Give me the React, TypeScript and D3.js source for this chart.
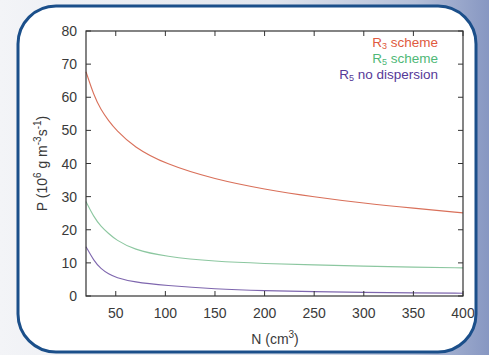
import React from "react";
import * as d3 from "d3";

const nValues = [20, 28, 35, 43, 50, 68, 100, 150, 200, 250, 300, 350, 400];
const r3Scheme = [67.7, 60.5, 56.2, 52.8, 50.2, 45.0, 39.8, 35.2, 32.2, 29.9, 28.0, 26.5, 25.1];
const r5Scheme = [28.5, 23.8, 21.0, 18.8, 17.0, 14.0, 11.9, 10.4, 9.8, 9.4, 9.0, 8.7, 8.5];
const r5NoDispersion = [14.9, 10.6, 8.2, 6.6, 5.6, 4.2, 3.2, 2.1, 1.6, 1.3, 1.1, 0.95, 0.85];
const xTicks = [50, 100, 150, 200, 250, 300, 350, 400];
const yTicks = [0, 10, 20, 30, 40, 50, 60, 70, 80];

const W = 489;
const H = 355;
const plot = { left: 86, right: 463, top: 31, bottom: 296 };
const FONT = "'Liberation Sans', Arial, Helvetica, sans-serif";
const TXT = "#3a3a3a";

export default function App() {
  const x = d3.scaleLinear().domain([20, 400]).range([plot.left, plot.right]);
  const y = d3.scaleLinear().domain([0, 80]).range([plot.bottom, plot.top]);
  const line = d3
    .line<number>()
    .x((_, i) => x(nValues[i]))
    .y((d) => y(d))
    .curve(d3.curveBasis);

  const series = [
    { vals: r3Scheme, color: "#d9705a" },
    { vals: r5Scheme, color: "#8cc7a0" },
    { vals: r5NoDispersion, color: "#7e66ae" },
  ];
  const tl = 5;

  return (
    <svg
      width={W}
      height={H}
      style={{ position: "fixed", top: 0, left: 0, display: "block" }}
    >
      <defs>
        <linearGradient id="bg" x1="0" y1="0" x2="1" y2="0">
          <stop offset="0" stopColor="#f3f4f7" />
          <stop offset="0.55" stopColor="#e2e6ee" />
          <stop offset="0.85" stopColor="#b4bfd8" />
          <stop offset="1" stopColor="#8797c2" />
        </linearGradient>
      </defs>
      <rect x={0} y={0} width={W} height={H} fill="url(#bg)" />
      <rect
        x={18}
        y={6}
        width={458}
        height={346}
        rx={38}
        ry={38}
        fill="#ffffff"
        stroke="#1b4f8a"
        strokeWidth={3}
      />
      {/* curves */}
      {series.map((s, i) => (
        <path key={i} d={line(s.vals) || ""} fill="none" stroke={s.color} strokeWidth={1.1} />
      ))}
      {/* frame */}
      <rect
        x={plot.left}
        y={plot.top}
        width={plot.right - plot.left}
        height={plot.bottom - plot.top}
        fill="none"
        stroke="#333"
        strokeWidth={1.2}
      />
      {/* x ticks */}
      {xTicks.map((t) => (
        <g key={"x" + t}>
          <line x1={x(t)} x2={x(t)} y1={plot.bottom} y2={plot.bottom - tl} stroke="#333" />
          <line x1={x(t)} x2={x(t)} y1={plot.top} y2={plot.top + tl} stroke="#333" />
          <text
            x={x(t)}
            y={318}
            textAnchor="middle"
            fontFamily={FONT}
            fontSize={14}
            fill={TXT}
          >
            {t}
          </text>
        </g>
      ))}
      {yTicks.map((t) => (
        <g key={"y" + t}>
          <line x1={plot.left} x2={plot.left + tl} y1={y(t)} y2={y(t)} stroke="#333" />
          <line x1={plot.right} x2={plot.right - tl} y1={y(t)} y2={y(t)} stroke="#333" />
          <text
            x={77}
            y={y(t) + 5}
            textAnchor="end"
            fontFamily={FONT}
            fontSize={14}
            fill={TXT}
          >
            {t}
          </text>
        </g>
      ))}
      {/* axis titles */}
      <text x={275} y={344} textAnchor="middle" fontFamily={FONT} fontSize={14} fill={TXT}>
        N (cm
        <tspan dy={-6} fontSize={10}>3</tspan>
        <tspan dy={6}>)</tspan>
      </text>
      <text
        transform={`translate(47, ${(plot.top + plot.bottom) / 2}) rotate(-90)`}
        textAnchor="middle"
        fontFamily={FONT}
        fontSize={14}
        fill={TXT}
      >
        P (10
        <tspan dy={-6} fontSize={10}>6</tspan>
        <tspan dy={6}> g m</tspan>
        <tspan dy={-6} fontSize={10}>-3</tspan>
        <tspan dy={6}>s</tspan>
        <tspan dy={-6} fontSize={10}>-1</tspan>
        <tspan dy={6}>)</tspan>
      </text>
      {/* legend */}
      <g fontFamily={FONT} fontSize={13.5} textAnchor="end">
        <text x={438} y={47} fill="#e05a40">
          R<tspan dy={2} fontSize={9}>3</tspan>
          <tspan dy={-2}> scheme</tspan>
        </text>
        <text x={438} y={63} fill="#4fb877">
          R<tspan dy={2} fontSize={9}>5</tspan>
          <tspan dy={-2}> scheme</tspan>
        </text>
        <text x={438} y={79} fill="#563a98">
          R<tspan dy={2} fontSize={9}>5</tspan>
          <tspan dy={-2}> no dispersion</tspan>
        </text>
      </g>
    </svg>
  );
}
